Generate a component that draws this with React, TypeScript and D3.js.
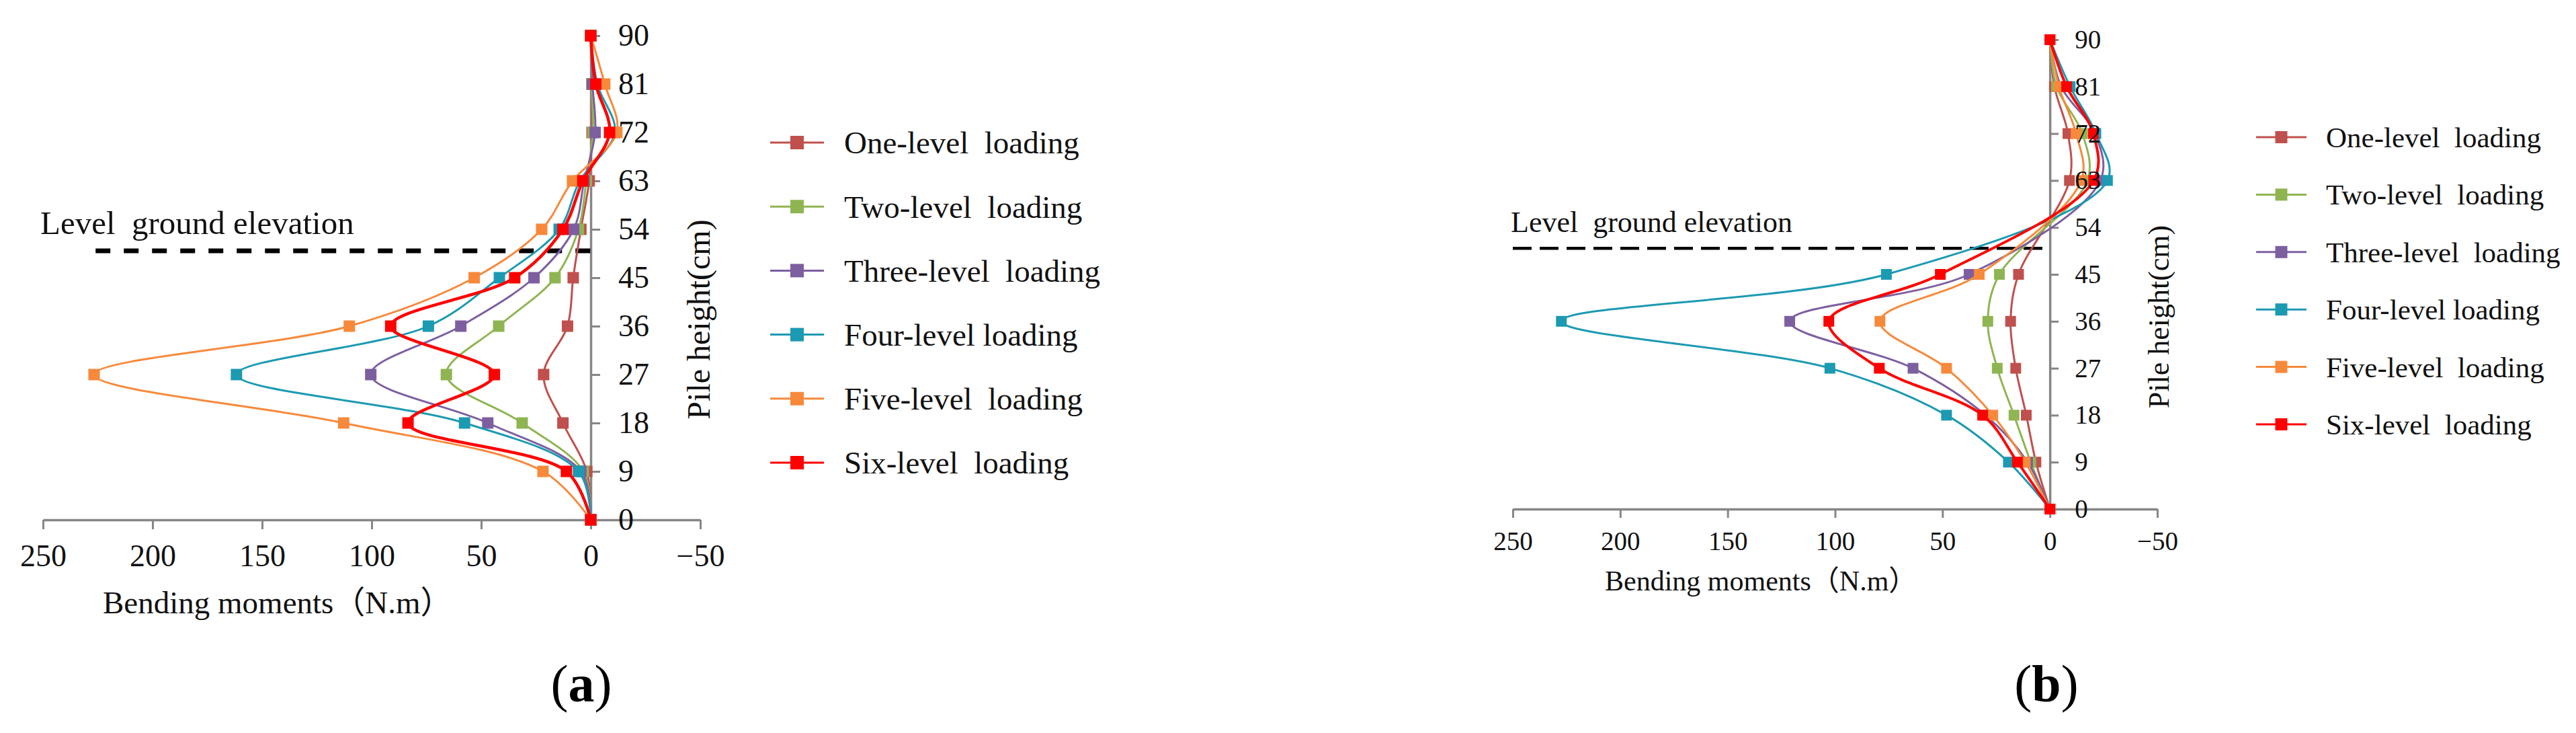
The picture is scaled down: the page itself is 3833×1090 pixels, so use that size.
import { useEffect, useRef } from "react";
import * as d3 from "d3";

const WIDTH = 3833;
const HEIGHT = 1090;
const FONT = "'Liberation Serif', 'Times New Roman', 'Noto Sans CJK SC', serif";

const SERIES_NAMES = [
  "One-level  loading",
  "Two-level  loading",
  "Three-level  loading",
  "Four-level loading",
  "Five-level  loading",
  "Six-level  loading",
];
const SERIES_COLORS = ["#C0504D", "#8FB552", "#7D5FA0", "#1C9AB2", "#F7893B", "#FF0000"];

const X_TICKS = [250, 200, 150, 100, 50, 0, -50];
const Y_TICKS = [0, 9, 18, 27, 36, 45, 54, 63, 72, 81, 90];
const GROUND_LEVEL = 50;

const X_TITLE = "Bending moments（N.m）";
const Y_TITLE = "Pile height(cm)";
const GROUND_LABEL = "Level  ground elevation";

// panel (a): pile height (cm) and bending moment (N.m) per loading level
const HEIGHTS_A = [0, 9, 18, 27, 36, 45, 54, 63, 72, 81, 90];
const ONE_A = [0, 1.8, 12.7, 21.5, 10.6, 8.0, 4.5, 0.7, -0.6, -0.5, 0];
const TWO_A = [0, 3.4, 31.3, 65.9, 42.0, 16.3, 5.6, 2.0, -1.0, -0.5, 0];
const THREE_A = [0, 4.5, 47.0, 100.4, 59.3, 25.9, 7.8, 3.0, -2.0, -0.8, 0];
const FOUR_A = [0, 5.6, 57.6, 161.7, 74.1, 41.7, 14.4, 5.0, -11.0, -3.0, 0];
const FIVE_A = [0, 21.8, 112.8, 226.7, 110.2, 53.2, 22.4, 8.3, -11.9, -6.4, 0];
const SIX_A = [0, 11.1, 83.4, 44.0, 91.3, 34.7, 12.7, 3.6, -8.6, -2.3, 0];

// panel (b)
const HEIGHTS_B = [0, 9, 18, 27, 36, 45, 63, 72, 81, 90];
const ONE_B = [0, 6.5, 11.0, 15.9, 18.3, 14.6, -9.1, -8.4, -2.1, 0];
const TWO_B = [0, 8.9, 16.7, 24.5, 28.9, 23.5, -17.5, -15.1, -3.1, 0];
const THREE_B = [0, 10.4, 30.0, 63.7, 121.1, 37.6, -23.5, -21.0, -5.2, 0];
const FOUR_B = [0, 19.3, 48.1, 102.4, 227.4, 76.1, -26.8, -21.4, -9.4, 0];
const FIVE_B = [0, 11.5, 26.6, 48.1, 79.1, 32.9, -14.6, -12.2, -4.2, 0];
const SIX_B = [0, 15.1, 31.3, 79.4, 102.9, 51.0, -20.4, -20.2, -7.8, 0];

interface Panel {
  tag: string;
  heights: number[];
  values: number[][];
  xRange: [number, number];
  yRange: [number, number];
  tickSize: number;
  tickFont: number;
  xLabelPad: number;
  yLabelPad: number;
  lineWidth: number;
  redWidth: number;
  marker: number;
  groundFrom: number;
  dash: string;
  dashWidth: number;
  groundText: { x: number; y: number; size: number };
  xTitle: { x: number; y: number; size: number };
  yTitle: { x: number; y: number; size: number };
  legend: { x1: number; x2: number; textX: number; top: number; step: number; size: number; marker: number };
  tagPos: { x: number; y: number; size: number };
}

const PANELS: Panel[] = [
  {
    tag: "a",
    heights: HEIGHTS_A,
    values: [ONE_A, TWO_A, THREE_A, FOUR_A, FIVE_A, SIX_A],
    xRange: [64, 1042],
    yRange: [773, 53],
    tickSize: 14,
    tickFont: 46,
    xLabelPad: 36,
    yLabelPad: 41,
    lineWidth: 3,
    redWidth: 4.5,
    marker: 17,
    groundFrom: 226,
    dash: "22 20",
    dashWidth: 7,
    groundText: { x: 60, y: 348, size: 49 },
    xTitle: { x: 153, y: 912, size: 47 },
    yTitle: { x: 1056, y: 475, size: 48 },
    legend: { x1: 1146, x2: 1226, textX: 1256, top: 212, step: 95.2, size: 47, marker: 20 },
    tagPos: { x: 865, y: 1043, size: 78 },
  },
  {
    tag: "b",
    heights: HEIGHTS_B,
    values: [ONE_B, TWO_B, THREE_B, FOUR_B, FIVE_B, SIX_B],
    xRange: [2251, 3210],
    yRange: [757, 59],
    tickSize: 13,
    tickFont: 39,
    xLabelPad: 33,
    yLabelPad: 37,
    lineWidth: 3,
    redWidth: 4,
    marker: 16,
    groundFrom: 250,
    dash: "28 12",
    dashWidth: 4.5,
    groundText: { x: 2248, y: 345, size: 44 },
    xTitle: { x: 2388, y: 878, size: 42 },
    yTitle: { x: 3227, y: 471, size: 44 },
    legend: { x1: 3357, x2: 3432, textX: 3461, top: 204, step: 85.4, size: 43, marker: 18 },
    tagPos: { x: 3045, y: 1043, size: 78 },
  },
];

const AXIS_COLOR = "#868686";

function drawPanel(svg: d3.Selection<SVGSVGElement, unknown, null, undefined>, p: Panel) {
  const x = d3.scaleLinear().domain([250, -50]).range(p.xRange);
  const y = d3.scaleLinear().domain([0, 90]).range(p.yRange);
  const axisX = x(0);
  const axisY = y(0);

  // axis lines and tick marks (labels drawn later, over the series)
  svg
    .append("g")
    .attr("transform", `translate(0,${axisY})`)
    .call(
      d3.axisBottom(x).tickValues(X_TICKS).tickSize(p.tickSize).tickSizeOuter(0).tickFormat(() => "")
    )
    .call((sel) => sel.select(".domain").attr("stroke", AXIS_COLOR).attr("stroke-width", 3.5))
    .call((sel) => sel.selectAll(".tick line").attr("stroke", AXIS_COLOR).attr("stroke-width", 3));

  svg
    .append("g")
    .attr("transform", `translate(${axisX},0)`)
    .call(
      d3.axisRight(y).tickValues(Y_TICKS).tickSize(p.tickSize).tickSizeOuter(0).tickFormat(() => "")
    )
    .call((sel) => sel.select(".domain").attr("stroke", AXIS_COLOR).attr("stroke-width", 3.5))
    .call((sel) => sel.selectAll(".tick line").attr("stroke", AXIS_COLOR).attr("stroke-width", 3));

  // ground elevation
  svg
    .append("line")
    .attr("x1", x(p.groundFrom))
    .attr("x2", axisX)
    .attr("y1", y(GROUND_LEVEL))
    .attr("y2", y(GROUND_LEVEL))
    .attr("stroke", "#000")
    .attr("stroke-width", p.dashWidth)
    .attr("stroke-dasharray", p.dash);

  svg
    .append("text")
    .attr("x", p.groundText.x)
    .attr("y", p.groundText.y)
    .attr("font-family", FONT)
    .attr("font-size", p.groundText.size)
    .attr("fill", "#111")
    .style("white-space", "pre")
    .text(GROUND_LABEL);

  // series
  const line = d3
    .line<[number, number]>()
    .x((d) => x(d[0]))
    .y((d) => y(d[1]))
    .curve(d3.curveCatmullRom.alpha(0.5));

  p.values.forEach((vals, i) => {
    const pts: [number, number][] = vals.map((v, j) => [v, p.heights[j]]);
    const color = SERIES_COLORS[i];
    svg
      .append("path")
      .datum(pts)
      .attr("d", line)
      .attr("fill", "none")
      .attr("stroke", color)
      .attr("stroke-width", i === 5 ? p.redWidth : p.lineWidth);

    svg
      .append("g")
      .selectAll("rect")
      .data(pts)
      .join("rect")
      .attr("x", (d) => x(d[0]) - p.marker / 2)
      .attr("y", (d) => y(d[1]) - p.marker / 2)
      .attr("width", p.marker)
      .attr("height", p.marker)
      .attr("fill", color);
  });

  // tick labels
  svg
    .append("g")
    .attr("transform", `translate(0,${axisY})`)
    .call(d3.axisBottom(x).tickValues(X_TICKS).tickSize(0).tickPadding(p.xLabelPad).tickFormat(d3.format("d")))
    .call((sel) => sel.select(".domain").remove())
    .call((sel) =>
      sel.selectAll(".tick text").attr("font-family", FONT).attr("font-size", p.tickFont).attr("fill", "#111")
    );

  svg
    .append("g")
    .attr("transform", `translate(${axisX},0)`)
    .call(d3.axisRight(y).tickValues(Y_TICKS).tickSize(0).tickPadding(p.yLabelPad).tickFormat(d3.format("d")))
    .call((sel) => sel.select(".domain").remove())
    .call((sel) =>
      sel.selectAll(".tick text").attr("font-family", FONT).attr("font-size", p.tickFont).attr("fill", "#111")
    );

  // axis titles
  svg
    .append("text")
    .attr("x", p.xTitle.x)
    .attr("y", p.xTitle.y)
    .attr("font-family", FONT)
    .attr("font-size", p.xTitle.size)
    .attr("fill", "#111")
    .text(X_TITLE);

  svg
    .append("text")
    .attr("transform", `translate(${p.yTitle.x},${p.yTitle.y}) rotate(-90)`)
    .attr("text-anchor", "middle")
    .attr("font-family", FONT)
    .attr("font-size", p.yTitle.size)
    .attr("fill", "#111")
    .text(Y_TITLE);

  // legend
  const lg = p.legend;
  SERIES_NAMES.forEach((name, i) => {
    const cy = lg.top + i * lg.step;
    const color = SERIES_COLORS[i];
    svg
      .append("line")
      .attr("x1", lg.x1)
      .attr("x2", lg.x2)
      .attr("y1", cy)
      .attr("y2", cy)
      .attr("stroke", color)
      .attr("stroke-width", 3);
    svg
      .append("rect")
      .attr("x", (lg.x1 + lg.x2) / 2 - lg.marker / 2)
      .attr("y", cy - lg.marker / 2)
      .attr("width", lg.marker)
      .attr("height", lg.marker)
      .attr("fill", color);
    svg
      .append("text")
      .attr("x", lg.textX)
      .attr("y", cy)
      .attr("dy", "0.35em")
      .attr("font-family", FONT)
      .attr("font-size", lg.size)
      .attr("fill", "#111")
      .style("white-space", "pre")
      .text(name);
  });

  // panel tag
  const tag = svg
    .append("text")
    .attr("x", p.tagPos.x)
    .attr("y", p.tagPos.y)
    .attr("text-anchor", "middle")
    .attr("font-family", FONT)
    .attr("font-size", p.tagPos.size)
    .attr("fill", "#000");
  tag.append("tspan").text("(");
  tag.append("tspan").attr("font-weight", "bold").text(p.tag);
  tag.append("tspan").text(")");
}

export default function App() {
  const svgRef = useRef<SVGSVGElement>(null);

  useEffect(() => {
    if (!svgRef.current) return;
    const svg = d3.select(svgRef.current);
    svg.selectAll("*").remove();
    PANELS.forEach((p) => drawPanel(svg, p));
    return () => {
      if (svgRef.current) d3.select(svgRef.current).selectAll("*").remove();
    };
  }, []);

  return (
    <svg
      ref={svgRef}
      width={WIDTH}
      height={HEIGHT}
      style={{ position: "absolute", left: 0, top: 0, background: "#fff" }}
      role="img"
      aria-label="Bending moment profiles along pile height for six loading levels"
    />
  );
}
